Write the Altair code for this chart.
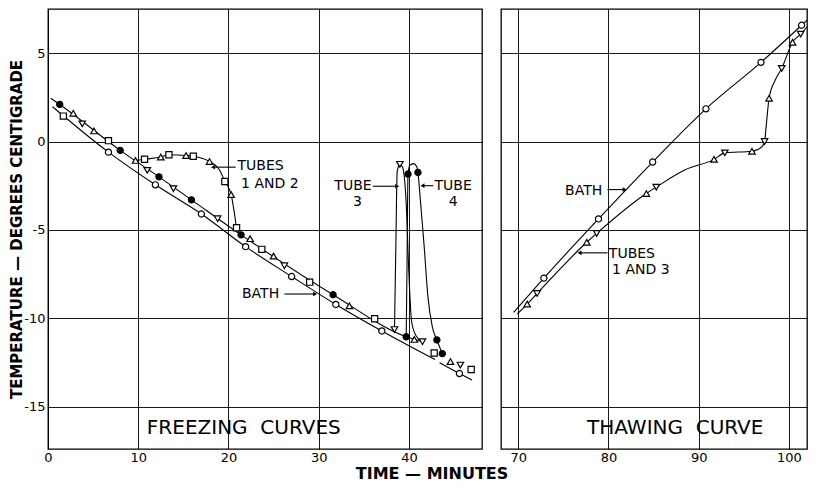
import altair as alt
import pandas as pd

# ---------------- FREEZING CURVES (left panel) ----------------
# drawn lines
bath_a_x = [0.5, 6.7, 11.9, 17.0, 21.9, 27.0, 31.9, 37.0, 42.9]
bath_a_y = [1.97, -0.6, -2.45, -4.1, -5.95, -7.64, -9.22, -10.72, -12.34]
bath_b_x = [43.4, 45.6, 47.0]
bath_b_y = [-12.52, -13.13, -13.5]
tubes_x = [0.3, 1.3, 8.0, 12.3, 15.9, 21.4, 31.6, 39.7, 41.6]
tubes_y = [2.45, 2.1, -0.5, -2.0, -3.3, -5.28, -8.67, -11.05, -11.35]
t12_x = [9.7, 10.7, 12.5, 13.4, 15.3, 16.1, 17.9, 19.0, 19.6, 20.3, 20.7, 20.9, 21.4]
t12_y = [-1.07, -1.0, -0.88, -0.75, -0.79, -0.83, -1.13, -1.6, -2.26, -3.0, -4.2, -4.88, -5.28]
t3_x = [38.4, 38.55, 38.7, 39.0, 39.3, 39.7, 40.0, 40.3, 40.8, 41.5]
t3_y = [-10.64, -6.0, -1.7, -1.29, -1.45, -3.5, -7.5, -10.2, -11.0, -11.33]
t4_x = [39.7, 39.8, 39.9, 40.1, 40.5, 40.9, 41.0, 41.3, 41.7, 42.1, 42.6, 43.1, 43.7]
t4_y = [-11.05, -6.5, -1.84, -1.35, -1.25, -1.45, -1.75, -3.5, -6.0, -8.75, -10.5, -11.23, -12.0]

# plotted readings
l_filled_x = [1.3, 8.0, 12.3, 15.9, 21.4, 31.6, 39.7, 39.9, 41.0, 43.1, 43.7]
l_filled_y = [2.1, -0.5, -2.0, -3.3, -5.28, -8.67, -11.05, -1.84, -1.75, -11.23, -12.0]
l_circle_x = [6.7, 11.9, 17.0, 21.9, 27.0, 31.9, 37.0, 45.6]
l_circle_y = [-0.6, -2.45, -4.1, -5.95, -7.64, -9.22, -10.72, -13.13]
l_square_x = [1.7, 6.7, 10.7, 13.4, 16.1, 19.6, 20.9, 23.7, 29.0, 36.2, 42.8, 46.9]
l_square_y = [1.44, 0.05, -1.0, -0.75, -0.83, -2.26, -4.88, -6.1, -7.96, -10.03, -11.97, -12.9]
l_tri_x = [2.8, 5.1, 9.7, 12.5, 15.3, 17.9, 20.3, 22.4, 25.0, 33.4, 40.6, 44.6]
l_tri_y = [1.6, 0.6, -1.07, -0.88, -0.79, -1.13, -3.0, -5.5, -6.48, -9.3, -11.2, -12.45]
l_wedge_x = [3.8, 11.0, 13.9, 18.8, 26.2, 38.4, 39.0, 41.5, 45.7]
l_wedge_y = [1.0, -1.63, -2.67, -4.37, -7.03, -10.64, -1.29, -11.33, -12.65]

# ---------------- THAWING CURVE (right panel) ----------------
bath_r_x = [69.5, 72.85, 78.9, 84.9, 90.8, 96.9, 101.4, 102.7]
bath_r_y = [-9.67, -7.73, -4.38, -1.16, 1.85, 4.48, 6.58, 7.2]
tubes_r_x = [69.9, 71.0, 72.1, 77.6, 78.7, 84.2, 85.3, 88.5, 91.7, 92.9, 95.9, 97.0, 97.3, 97.5,
             97.8, 98.5, 99.2, 100.4, 101.3, 102.7]
tubes_r_y = [-9.76, -9.2, -8.6, -5.7, -5.2, -2.94, -2.58, -1.6, -1.01, -0.64, -0.55, -0.3, 0.0, 1.0,
             2.45, 3.5, 4.14, 5.62, 6.08, 6.9]
r_circle_x = [72.85, 78.9, 84.9, 90.8, 96.9, 101.4]
r_circle_y = [-7.73, -4.38, -1.16, 1.85, 4.48, 6.58]
r_tri_x = [71.0, 77.6, 84.2, 91.7, 95.9, 97.8, 100.4]
r_tri_y = [-9.2, -5.7, -2.94, -1.01, -0.55, 2.45, 5.62]
r_wedge_x = [72.1, 78.7, 85.3, 92.9, 97.3, 99.2, 101.3]
r_wedge_y = [-8.6, -5.2, -2.58, -0.64, 0.0, 4.14, 6.08]

# ---------------- annotations ----------------
l_text = ["TUBES", "1 AND 2", "BATH", "FREEZING\u00a0\u00a0CURVES"]
l_text_x = [21.0, 21.4, 21.5, 21.7]
l_text_y = [-1.4, -2.4, -8.65, -16.2]
l_text_c = ["TUBE", "3", "TUBE", "4"]
l_text_c_x = [33.8, 34.3, 44.9, 44.9]
l_text_c_y = [-2.49, -3.4, -2.49, -3.4]
l_arrow_x = [20.8, 36.0, 42.7, 26.2]
l_arrow_x2 = [18.3, 38.7, 41.5, 29.6]
l_arrow_y = [-1.45, -2.53, -2.5, -8.63]

r_text = ["BATH", "TUBES", "1 AND 3", "THAWING\u00a0\u00a0CURVE"]
r_text_x = [75.2, 80.05, 80.4, 87.4]
r_text_y = [-2.78, -6.35, -7.27, -16.2]
r_arrow_x = [79.9, 79.9]
r_arrow_x2 = [81.8, 76.8]
r_arrow_y = [-2.72, -6.3]

Y_DOMAIN = [-17.4, 7.5]
Y_TICKS = [-15, -10, -5, 0, 5]
H = 440
FONT = "DejaVu Sans"


def lines_frame(series):
    rows = []
    for sid, (xs, ys) in enumerate(series):
        for i, (a, b) in enumerate(zip(xs, ys)):
            rows.append({"id": sid, "i": i, "x": a, "y": b})
    return pd.DataFrame(rows)


def pts(xs, ys):
    return pd.DataFrame({"x": xs, "y": ys})


def panel(line_series, markers, texts_left, texts_center, arrows, xdom, xticks, width, left):
    xenc = alt.X("x:Q", scale=alt.Scale(domain=xdom, nice=False, zero=False),
                 axis=alt.Axis(values=xticks, title=None, ticks=False, domain=False, grid=True,
                               labelPadding=2, labelFontSize=13, labelFont=FONT,
                               labelFlush=False, labelColor="black",
                               gridColor="black", gridWidth=0.9))
    if left:
        yaxis = alt.Axis(values=Y_TICKS, title="TEMPERATURE \u2014 DEGREES CENTIGRADE",
                         titleFontSize=15, titleFontWeight="bold", titleFont=FONT,
                         titleColor="black", titlePadding=2, ticks=False, domain=False,
                         grid=True, labelPadding=3, labelFontSize=13, labelFont=FONT,
                         labelColor="black", labelExpr="'' + datum.value",
                         labelFlush=False, minExtent=22, maxExtent=22,
                         gridColor="black", gridWidth=0.9)
    else:
        yaxis = alt.Axis(values=Y_TICKS, title=None, labels=False, ticks=False, domain=False,
                         grid=True, minExtent=0, maxExtent=0, gridColor="black", gridWidth=0.9)
    yenc = alt.Y("y:Q", scale=alt.Scale(domain=Y_DOMAIN, nice=False, zero=False), axis=yaxis)

    layers = []
    layers.append(
        alt.Chart(lines_frame(line_series)).mark_line(
            color="black", strokeWidth=1.1, interpolate="monotone", clip=True
        ).encode(x=xenc, y=yenc, detail="id:N", order="i:Q")
    )
    for shape, filled, size, (xs, ys) in markers:
        layers.append(
            alt.Chart(pts(xs, ys)).mark_point(
                shape=shape, filled=True, fill="black" if filled else "white",
                stroke="black", strokeWidth=1.2, size=size, opacity=1, clip=True
            ).encode(x=xenc, y=yenc)
        )
    ax, ax2, ay = arrows
    adf = pd.DataFrame({"x": ax, "x2": ax2, "y": ay,
                        "dir": ["right" if b > a else "left" for a, b in zip(ax, ax2)]})
    layers.append(alt.Chart(adf).mark_rule(color="black", strokeWidth=1.1).encode(
        x=xenc, x2="x2:Q", y=yenc))
    for d in ["right", "left"]:
        sub = adf[adf["dir"] == d][["x2", "y"]].rename(columns={"x2": "x"})
        if len(sub):
            layers.append(alt.Chart(sub).mark_point(
                shape="triangle-" + d, filled=True, color="black", size=22, opacity=1
            ).encode(x=xenc, y=yenc))
    tl, tlx, tly = texts_left
    big = [len(t) > 8 for t in tl]
    tdf = pd.DataFrame({"x": tlx, "y": tly, "t": tl, "big": big})
    layers.append(alt.Chart(tdf[~tdf["big"]]).mark_text(
        align="left", baseline="middle", font=FONT, fontSize=14, color="black"
    ).encode(x=xenc, y=yenc, text="t:N"))
    layers.append(alt.Chart(tdf[tdf["big"]]).mark_text(
        align="center", baseline="middle", font=FONT, fontSize=20, color="black"
    ).encode(x=xenc, y=yenc, text="t:N"))
    if texts_center is not None:
        tc, tcx, tcy = texts_center
        layers.append(alt.Chart(pd.DataFrame({"x": tcx, "y": tcy, "t": tc})).mark_text(
            align="center", baseline="middle", font=FONT, fontSize=14, color="black"
        ).encode(x=xenc, y=yenc, text="t:N"))
    return alt.layer(*layers).properties(width=width, height=H)


left = panel(
    [(bath_a_x, bath_a_y), (bath_b_x, bath_b_y), (tubes_x, tubes_y), (t12_x, t12_y),
     (t3_x, t3_y), (t4_x, t4_y)],
    [("circle", False, 38, (l_circle_x, l_circle_y)),
     ("square", False, 38, (l_square_x, l_square_y)),
     ("triangle-up", False, 42, (l_tri_x, l_tri_y)),
     ("triangle-down", False, 42, (l_wedge_x, l_wedge_y)),
     ("circle", True, 38, (l_filled_x, l_filled_y))],
    (l_text, l_text_x, l_text_y),
    (l_text_c, l_text_c_x, l_text_c_y),
    (l_arrow_x, l_arrow_x2, l_arrow_y),
    [0, 48.1], [0, 10, 20, 30, 40], 434, True,
)

right = panel(
    [(bath_r_x, bath_r_y), (tubes_r_x, tubes_r_y)],
    [("circle", False, 38, (r_circle_x, r_circle_y)),
     ("triangle-up", False, 42, (r_tri_x, r_tri_y)),
     ("triangle-down", False, 42, (r_wedge_x, r_wedge_y))],
    (r_text, r_text_x, r_text_y),
    None,
    (r_arrow_x, r_arrow_x2, r_arrow_y),
    [68.1, 102.0], [70, 80, 90, 100], 306, False,
)

chart = alt.hconcat(left, right, spacing=17).properties(
    title=alt.TitleParams(
        "TIME \u2014 MINUTES", orient="bottom", anchor="middle", fontSize=16,
        fontWeight="bold", font=FONT, color="black", offset=1, dx=24
    ),
    padding={"left": 0, "top": 0, "right": 0, "bottom": 0},
).configure_view(stroke="black", strokeWidth=1.3)

chart.save("out.html", embed_options={"renderer": "svg", "actions": False})
